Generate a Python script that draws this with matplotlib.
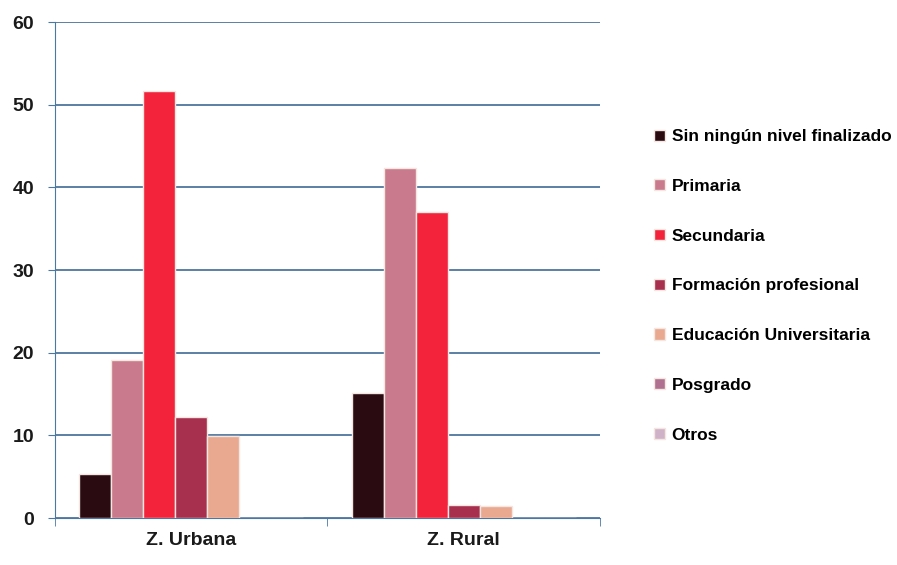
import matplotlib
matplotlib.use("Agg")
import matplotlib.pyplot as plt
import numpy as np

groups = ["Z. Urbana", "Z. Rural"]
series = ["Sin ningún nivel finalizado", "Primaria", "Secundaria",
          "Formación profesional", "Educación Universitaria", "Posgrado", "Otros"]
urbana = [5.3, 19.1, 51.6, 12.2, 9.9, 0, 0]
rural = [15.1, 42.4, 37.0, 1.6, 1.5, 0, 0]
colors = ["#2b0b12", "#c97a8c", "#f2233b", "#a8304f", "#e9a990", "#b07090", "#cfb2c8"]

plt.rcParams["font.family"] = ["Liberation Sans", "DejaVu Sans"]

fig = plt.figure(figsize=(8.97, 5.65), dpi=100)
ax = fig.add_axes([0.061, 0.083, 0.608, 0.878])

x = np.arange(len(groups))
n = len(series)
w = 0.82 / n
for i, name in enumerate(series):
    vals = [urbana[i], rural[i]]
    ax.bar(x - 0.41 + w * (i + 0.5), vals, width=w, color=colors[i],
           edgecolor="#f4e6e0", linewidth=1.0, label=name, zorder=3)

ax.set_xlim(-0.5, 1.5)
ax.set_ylim(0, 60)
ax.set_yticks(range(0, 61, 10))
ax.yaxis.grid(True, color="#3f6b96", linewidth=1.2, zorder=0)
ax.set_axisbelow(True)
for s in ["top", "right"]:
    ax.spines[s].set_visible(False)
ax.spines["left"].set_color("#4a78a4")
ax.spines["bottom"].set_color("#4a78a4")
ax.set_xticks(x)
ax.set_xticklabels(groups, fontsize=14, fontweight="bold", color="#1a1a1a")
ax.set_xticks([-0.5, 0.5, 1.5], minor=True)
ax.tick_params(axis="x", which="major", length=0, pad=10)
ax.tick_params(axis="x", which="minor", length=6, color="#4a78a4")
ax.tick_params(axis="y", length=5, color="#4a78a4", labelsize=14, pad=10)
for t in ax.get_yticklabels():
    t.set_fontweight("bold")
    t.set_color("#1a1a1a")

handles, labels = ax.get_legend_handles_labels()
leg = fig.legend(handles, labels, loc="center left", bbox_to_anchor=(0.712, 0.494),
                 frameon=False, handlelength=0.6, handleheight=0.6,
                 handletextpad=0.4, labelspacing=2.0,
                 prop={"weight": "bold", "size": 12.5})

fig.savefig("out.png", dpi=100)
